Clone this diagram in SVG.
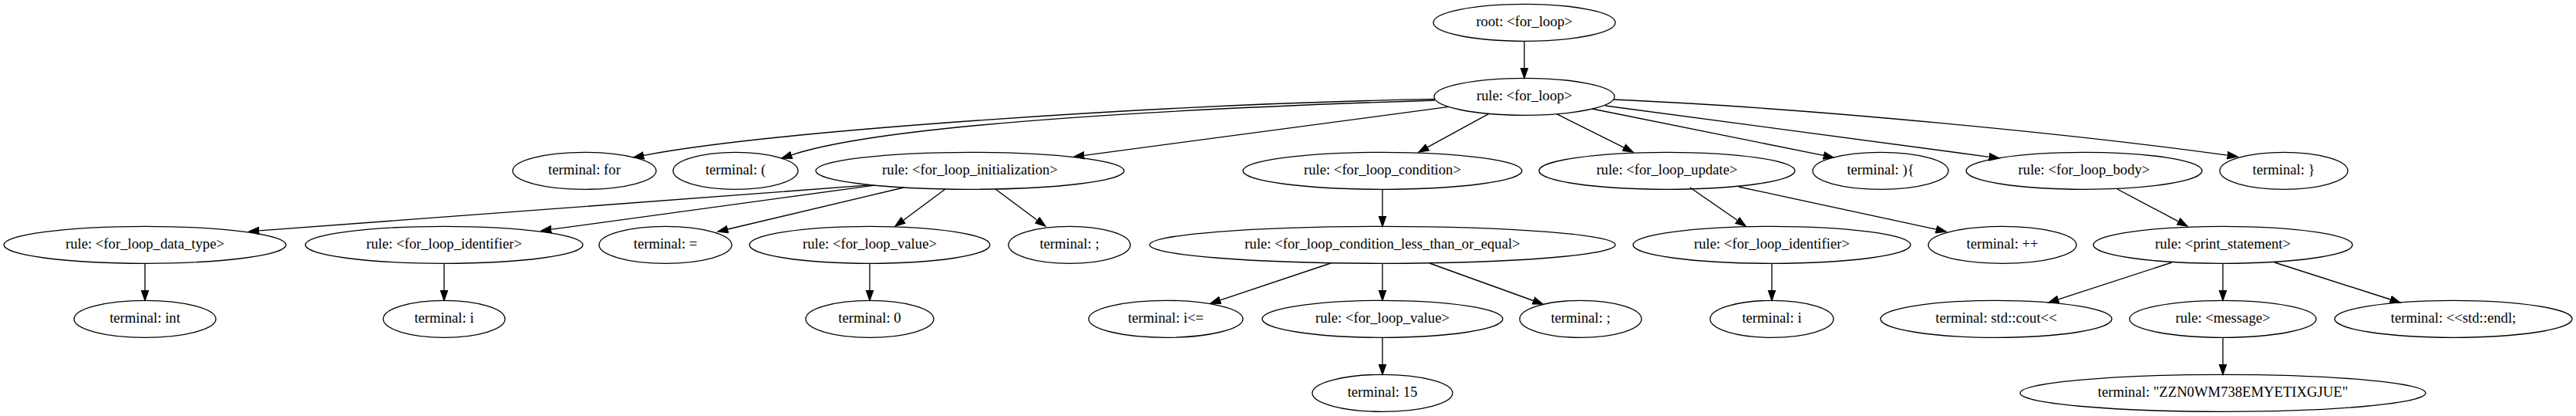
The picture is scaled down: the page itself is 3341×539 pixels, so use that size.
<svg xmlns="http://www.w3.org/2000/svg" width="3341" height="539" viewBox="0 0 3341 539">
<style>
.n ellipse{fill:none;stroke:#000;stroke-width:1.33}
.n text{font-family:"Liberation Serif","Times New Roman",serif;font-size:18.67px;text-anchor:middle;fill:#000}
.e path{fill:none;stroke:#000;stroke-width:1.33;marker-end:url(#ah)}
</style>
<defs>
<marker id="ah" markerUnits="userSpaceOnUse" viewBox="0 -6 15 12" refX="0" refY="0" markerWidth="15" markerHeight="12" orient="auto">
<path d="M0,-4.67 L13.33,0 L0,4.67 Z" fill="#000" stroke="#000" stroke-width="1.33"/>
</marker>
</defs>
<rect width="3341" height="539" fill="#fff"/>
<g class="e" id="connectors">
<path d="M1977,53.3 L1977,88"/>
<path d="M1861,128.4 C1500,135 1000,170 835,201.3"/>
<path d="M1861,130 C1550,140 1150,160 1026.7,200.8"/>
<path d="M1879,138.4 L1406.2,201.3"/>
<path d="M1931,147.4 L1851.7,190.7"/>
<path d="M2019,147.7 L2106.1,191.1"/>
<path d="M2065,141 L2365,201.4"/>
<path d="M2082,137 L2579.8,203.3"/>
<path d="M2093,129 C2350,140 2700,175 2888.8,201.2"/>
<path d="M1130,239.7 C950,252 600,280 336.3,298.9"/>
<path d="M1134,240.1 L715.2,297.2"/>
<path d="M1172,243 L944,297"/>
<path d="M1226,245 L1171.8,285.2"/>
<path d="M1291,245 L1345.2,285.2"/>
<path d="M1793,245.3 L1793,280"/>
<path d="M1726,341 L1582.7,388.8"/>
<path d="M1793,341.3 L1793,376"/>
<path d="M1854,341 L1988.5,389.5"/>
<path d="M1793,437.3 L1793,472"/>
<path d="M2192,243 L2253.1,285.3"/>
<path d="M2255,242 L2511,297.2"/>
<path d="M2746,245 L2825.2,286.8"/>
<path d="M2298,341.3 L2298,376"/>
<path d="M2817,340 L2669.7,387.9"/>
<path d="M2883,341.3 L2883,376"/>
<path d="M2950,340 L3100.3,388"/>
<path d="M2883,437.3 L2883,472"/>
<path d="M188,341.3 L188,376"/>
<path d="M576,341.3 L576,376"/>
<path d="M1128,341.3 L1128,376"/>
</g>
<g class="n" id="root"><ellipse cx="1977" cy="29.3" rx="118" ry="24"/><text x="1977" y="34.3">root: &lt;for_loop&gt;</text></g>
<g class="n" id="for_loop"><ellipse cx="1977" cy="125.3" rx="117" ry="24"/><text x="1977" y="130.3">rule: &lt;for_loop&gt;</text></g>
<g class="n" id="t_for"><ellipse cx="758" cy="221.3" rx="93" ry="24"/><text x="758" y="226.3">terminal: for</text></g>
<g class="n" id="t_lparen"><ellipse cx="954" cy="221.3" rx="81" ry="24"/><text x="954" y="226.3">terminal: (</text></g>
<g class="n" id="init"><ellipse cx="1258" cy="221.3" rx="200" ry="24"/><text x="1258" y="226.3">rule: &lt;for_loop_initialization&gt;</text></g>
<g class="n" id="cond"><ellipse cx="1793" cy="221.3" rx="181" ry="24"/><text x="1793" y="226.3">rule: &lt;for_loop_condition&gt;</text></g>
<g class="n" id="update"><ellipse cx="2162" cy="221.3" rx="166" ry="24"/><text x="2162" y="226.3">rule: &lt;for_loop_update&gt;</text></g>
<g class="n" id="t_rparen"><ellipse cx="2439" cy="221.3" rx="88" ry="24"/><text x="2439" y="226.3">terminal: ){</text></g>
<g class="n" id="body"><ellipse cx="2703" cy="221.3" rx="153" ry="24"/><text x="2703" y="226.3">rule: &lt;for_loop_body&gt;</text></g>
<g class="n" id="t_rbrace"><ellipse cx="2962" cy="221.3" rx="83" ry="24"/><text x="2962" y="226.3">terminal: }</text></g>
<g class="n" id="data_type"><ellipse cx="188" cy="317.3" rx="183" ry="24"/><text x="188" y="322.3">rule: &lt;for_loop_data_type&gt;</text></g>
<g class="n" id="ident1"><ellipse cx="576" cy="317.3" rx="180" ry="24"/><text x="576" y="322.3">rule: &lt;for_loop_identifier&gt;</text></g>
<g class="n" id="t_eq"><ellipse cx="863" cy="317.3" rx="86" ry="24"/><text x="863" y="322.3">terminal: =</text></g>
<g class="n" id="value1"><ellipse cx="1128" cy="317.3" rx="156" ry="24"/><text x="1128" y="322.3">rule: &lt;for_loop_value&gt;</text></g>
<g class="n" id="t_semi1"><ellipse cx="1387" cy="317.3" rx="79" ry="24"/><text x="1387" y="322.3">terminal: ;</text></g>
<g class="n" id="lte"><ellipse cx="1793" cy="317.3" rx="302" ry="24"/><text x="1793" y="322.3">rule: &lt;for_loop_condition_less_than_or_equal&gt;</text></g>
<g class="n" id="ident2"><ellipse cx="2298" cy="317.3" rx="180" ry="24"/><text x="2298" y="322.3">rule: &lt;for_loop_identifier&gt;</text></g>
<g class="n" id="t_inc"><ellipse cx="2597" cy="317.3" rx="96" ry="24"/><text x="2597" y="322.3">terminal: ++</text></g>
<g class="n" id="print"><ellipse cx="2883" cy="317.3" rx="168" ry="24"/><text x="2883" y="322.3">rule: &lt;print_statement&gt;</text></g>
<g class="n" id="t_int"><ellipse cx="188" cy="413.3" rx="92" ry="24"/><text x="188" y="418.3">terminal: int</text></g>
<g class="n" id="t_i1"><ellipse cx="576" cy="413.3" rx="79" ry="24"/><text x="576" y="418.3">terminal: i</text></g>
<g class="n" id="t_0"><ellipse cx="1128" cy="413.3" rx="83" ry="24"/><text x="1128" y="418.3">terminal: 0</text></g>
<g class="n" id="t_le"><ellipse cx="1512" cy="413.3" rx="100" ry="24"/><text x="1512" y="418.3">terminal: i&lt;=</text></g>
<g class="n" id="value2"><ellipse cx="1793" cy="413.3" rx="156" ry="24"/><text x="1793" y="418.3">rule: &lt;for_loop_value&gt;</text></g>
<g class="n" id="t_semi2"><ellipse cx="2050" cy="413.3" rx="79" ry="24"/><text x="2050" y="418.3">terminal: ;</text></g>
<g class="n" id="t_i2"><ellipse cx="2298" cy="413.3" rx="80" ry="24"/><text x="2298" y="418.3">terminal: i</text></g>
<g class="n" id="t_cout"><ellipse cx="2589" cy="413.3" rx="150" ry="24"/><text x="2589" y="418.3">terminal: std::cout&lt;&lt;</text></g>
<g class="n" id="message"><ellipse cx="2883" cy="413.3" rx="121" ry="24"/><text x="2883" y="418.3">rule: &lt;message&gt;</text></g>
<g class="n" id="t_endl"><ellipse cx="3182" cy="413.3" rx="154" ry="24"/><text x="3182" y="418.3">terminal: &lt;&lt;std::endl;</text></g>
<g class="n" id="t_15"><ellipse cx="1793" cy="509.3" rx="91" ry="24"/><text x="1793" y="514.3">terminal: 15</text></g>
<g class="n" id="t_msg"><ellipse cx="2883" cy="509.3" rx="263" ry="24"/><text x="2883" y="514.3">terminal: "ZZN0WM738EMYETIXGJUE"</text></g>
</svg>
